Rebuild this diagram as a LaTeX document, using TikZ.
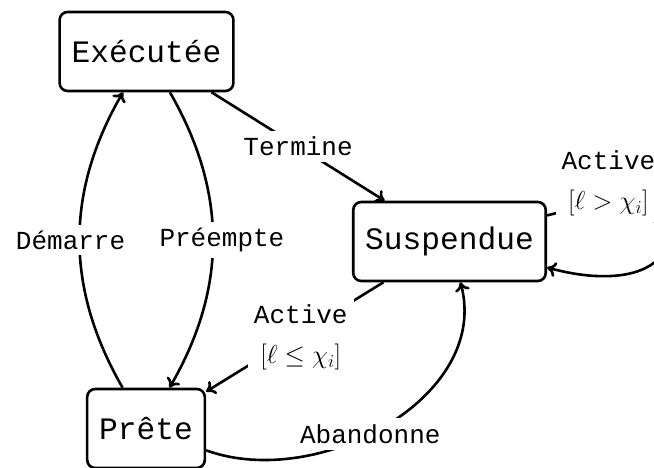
\documentclass[tikz,border=0pt]{standalone}
\usepackage{fix-cm}
\usepackage{fontspec}
\setmonofont{Liberation Mono}
\usetikzlibrary{arrows.meta}
\begin{document}
\begin{tikzpicture}[x=1pt,y=1pt,line width=2.6pt,>={Computer Modern Rightarrow[length=9pt,width=15pt]},
    state/.style={draw,rounded corners=8pt,minimum height=79pt,inner xsep=12pt,
      font=\ttfamily\fontsize{31.2}{36}\selectfont},
    lbl/.style={fill=white,inner sep=6pt,align=center,
      font=\ttfamily\fontsize{26}{40}\selectfont}]
      \useasboundingbox (0,0) rectangle (654,468);
      \draw
        (146.5,416.5) node[state] (exec){Exécutée}
        (449.5,226.5) node[state] (susp){Suspendue}
        (146,39.5) node[state] (prete){Prête};
      \begin{scope}[->]
        \draw (exec) -- node[lbl]{Termine} (susp);
        \draw (prete) to[bend left=30] node[lbl,xshift=-9pt]{Démarre} (exec);
        \draw (exec) to[bend left=30] node[lbl,xshift=9pt]{Préempte} (prete);
        \draw (susp) -- node[lbl,xshift=6pt]{Active\\$[\ell\leq\chi_i]$} (prete);
        \draw (prete) to[out=-20,in=-75] node[lbl,pos=0.45]{Abandonne} (susp);
        \draw (susp) to[loop right] node[lbl,pos=0.15,xshift=-53pt,yshift=24pt]{Active\\$[\ell>\chi_i]$} (susp);
      \end{scope}
    \end{tikzpicture}
\end{document}
